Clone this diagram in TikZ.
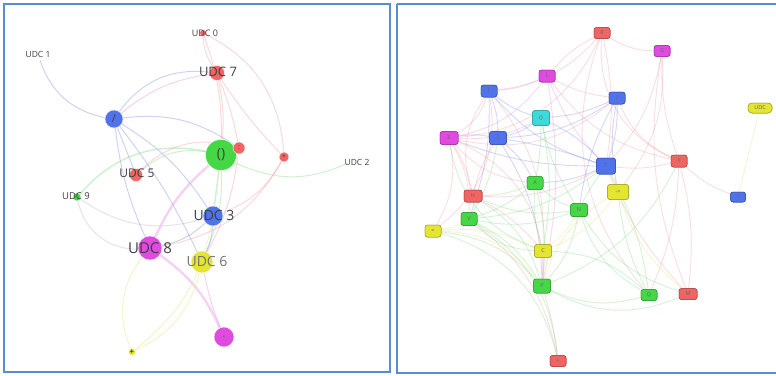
\documentclass[tikz,border=0pt]{standalone}
\usepackage{fontspec}
\setmainfont{Open Sans}
\definecolor{nred}{RGB}{240,100,100}
\definecolor{nmag}{RGB}{222,75,222}
\definecolor{nblue}{RGB}{80,115,235}
\definecolor{ngreen}{RGB}{70,215,70}
\definecolor{nyel}{RGB}{228,228,50}
\definecolor{ncyan}{RGB}{60,218,218}
\definecolor{framec}{RGB}{90,140,210}
\definecolor{lblue}{RGB}{120,130,220}
\definecolor{lpink}{RGB}{235,150,160}
\definecolor{lgreen}{RGB}{120,215,120}
\definecolor{lyel}{RGB}{225,225,110}
\definecolor{lmag}{RGB}{225,130,225}
\definecolor{lgray}{RGB}{180,180,200}
\begin{document}
\begin{tikzpicture}[x=1pt,y=-1pt,
  panel/.style={draw=framec,line width=1.4pt},
  dot/.style={circle,inner sep=0pt,draw=white,line width=0.4pt},
  lab/.style={inner sep=0pt,text=black!75},
  e/.style={line width=1pt,opacity=0.35},
  ee/.style={line width=0.9pt,opacity=0.3},
  rbox/.style={rounded corners=2.5pt,inner sep=0pt,minimum width=16pt,minimum height=11pt,
    font=\fontsize{5.5}{5.5}\selectfont,text=black!60,line width=0.5pt}
]
\useasboundingbox (0,0) rectangle (776,375);
\fill[white] (0,0) rectangle (776,375);

% ---------- left panel ----------
\coordinate (d0) at (203,33);
\coordinate (d1) at (40,60);
\coordinate (d2) at (348,163);
\node[dot,fill=nred,minimum size=15pt] (d7) at (217,73) {};
\node[dot,fill=nblue,minimum size=18pt] (slash) at (114,119) {};
\node[dot,fill=ngreen,minimum size=31pt] (paren) at (221,155) {};
\node[dot,fill=nred,minimum size=12pt] (colon) at (239,148) {};
\node[dot,fill=nred,minimum size=10pt] (star) at (284,157) {};
\node[dot,fill=nred,minimum size=13pt] (d5) at (136,175) {};
\node[dot,fill=ngreen,minimum size=8pt] (d9) at (77,197) {};
\node[dot,fill=nblue,minimum size=20pt] (d3) at (213,216) {};
\node[dot,fill=nmag,minimum size=24pt] (d8) at (150,248) {};
\node[dot,fill=nyel,minimum size=22pt] (d6) at (202,262) {};
\node[dot,fill=nmag,minimum size=20pt] (minus) at (224,337) {};
\node[dot,fill=nyel,minimum size=7pt] (plus) at (132,352) {};

\draw[e,lblue] (d1) to[bend right=30] (slash);
\draw[e,lblue] (slash) to[bend left=30] (d7);
\draw[e,lmag] (slash) to[bend left=15] (d7);
\draw[e,lblue] (slash) -- (d5);
\draw[e,lblue] (slash) to[bend left=12] (d3);
\draw[e,lblue] (slash) to[bend right=8] (d8);
\draw[e,lblue] (slash) to[bend left=6] (d6);
\draw[e,lblue] (slash) to[bend left=20] (colon);
\draw[e,lgreen,line width=1.5pt] (paren) to[bend right=30] (d9);
\draw[e,lgreen] (paren) to[bend right=25] (d2);
\draw[e,lgreen,line width=1.5pt] (paren) -- (d3);
\draw[e,lmag,line width=2.5pt] (paren) to[bend right=12] (d8);
\draw[e,lgreen] (paren) to[bend left=12] (d6);
\draw[e,lgreen] (paren) to[bend right=25] (d5);
\draw[e,lpink] (d0) to[bend left=10] (paren);
\draw[e,lpink] (d0) to[bend left=30] (star);
\draw[e,lpink] (d0) to[bend right=15] (d7);
\draw[e,lpink] (d7) to[bend left=8] (paren);
\draw[e,lpink] (d7) to[bend right=5] (star);
\draw[e,lpink] (d7) to[bend left=5] (colon);
\draw[e,lpink] (star) to[bend left=20] (d3);
\draw[e,lpink] (star) to[bend left=25] (d8);
\draw[e,lpink] (colon) to[bend left=10] (d6);
\draw[e,lpink] (colon) to[bend right=30] (d5);
\draw[e,lmag,line width=2.5pt] (d8) to[bend left=15] (minus);
\draw[e,lyel] (d8) to[bend right=30] (plus);
\draw[e,lyel] (d6) to[bend left=25] (plus);
\draw[e,lmag] (d6) to[bend right=5] (minus);
\draw[e,lblue] (d3) to[bend left=10] (d6);
\draw[e,lblue] (d3) to[bend left=15] (d8);
\draw[e,lgray] (d9) to[bend right=40] (d8);
\draw[e,lgray] (d9) to[bend right=25] (d3);
\draw[e,lyel] (d3) to[bend left=20] (plus);

% dots over edges
\node[dot,fill=nred,minimum size=15pt] at (d7) {};
\node[dot,fill=nblue,minimum size=18pt] at (slash) {};
\node[dot,fill=ngreen,minimum size=31pt] at (paren) {};
\node[dot,fill=nred,minimum size=12pt] at (colon) {};
\node[dot,fill=nred,minimum size=10pt] at (star) {};
\node[dot,fill=nred,minimum size=13pt] at (d5) {};
\node[dot,fill=ngreen,minimum size=8pt] at (d9) {};
\node[dot,fill=nblue,minimum size=20pt] at (d3) {};
\node[dot,fill=nmag,minimum size=24pt] at (d8) {};
\node[dot,fill=nyel,minimum size=22pt] at (d6) {};
\node[dot,fill=nmag,minimum size=20pt] at (minus) {};
\node[dot,fill=nyel,minimum size=7pt] at (plus) {};
\fill[nred] (d0) circle (3pt);

\node[lab,font=\fontsize{9}{9}\selectfont] (t0) at (205,33) {UDC 0};
\node[lab,font=\fontsize{8.5}{9}\selectfont] (t1) at (38,54) {UDC 1};
\node[lab,font=\fontsize{8.5}{9}\selectfont] (t2) at (357,162) {UDC 2};
\node[lab,font=\fontsize{13}{13}\selectfont] (t7) at (218,72) {UDC 7};
\node[lab,font=\fontsize{12}{12}\selectfont] (t5) at (137,173) {UDC 5};
\node[lab,font=\fontsize{9.5}{10}\selectfont] (t9) at (76,196) {UDC 9};
\node[lab,font=\fontsize{14}{14}\selectfont] (t3) at (214,215) {UDC 3};
\node[lab,font=\fontsize{15}{15}\selectfont] (t8) at (150,248) {UDC 8};
\node[lab,font=\fontsize{14}{14}\selectfont,text=black!55] (t6) at (207,261) {UDC 6};
\node[lab,font=\fontsize{14}{14}\selectfont] at (paren) {()};
\node[lab,font=\fontsize{11}{11}\selectfont] at (slash) {/};
\node[lab,font=\fontsize{7}{7}\selectfont] at (colon) {:};
\node[lab,font=\fontsize{6}{6}\selectfont] at (star) {*};
\node[lab,font=\fontsize{7}{7}\selectfont] at (minus) {-};
\node[lab,font=\fontsize{8}{8}\selectfont,text=black] at (plus) {+};

\draw[panel] (4,4) rectangle (390,372);

% ---------- right panel ----------
\node[rbox,fill=nred,draw=nred!70!black] (rR) at (602,33) {R};
\node[rbox,fill=nmag,draw=nmag!70!black] (rG) at (662,51) {G};
\node[rbox,fill=nmag,draw=nmag!70!black,minimum height=12pt] (rL) at (547,76) {L};
\node[rbox,fill=nblue,draw=nblue!70!black,minimum height=12pt] (rI) at (489,91) {I};
\node[rbox,fill=nblue,draw=nblue!70!black,minimum height=12pt] (rU) at (617,98) {J};
\node[rbox,fill=nyel,draw=nyel!70!black,minimum width=24pt,minimum height=10pt,rounded corners=4pt] (rUDC) at (760,108) {UDC};
\node[rbox,fill=ncyan,draw=ncyan!70!black,minimum width=17pt,minimum height=15pt] (rPar) at (541,118) {()};
\node[rbox,fill=nmag,draw=nmag!70!black,minimum width=18pt,minimum height=13pt] (rE) at (449,138) {E};
\node[rbox,fill=nblue,draw=nblue!70!black,minimum width=17pt,minimum height=13pt] (rS) at (498,138) {S};
\node[rbox,fill=nblue,draw=nblue!70!black,minimum width=19pt,minimum height=16pt] (rT) at (606,166) {T};
\node[rbox,fill=nred,draw=nred!70!black,minimum height=12pt] (rF) at (679,161) {F};
\node[rbox,fill=ngreen,draw=ngreen!70!black,minimum height=13pt] (rA) at (535,183) {A};
\node[rbox,fill=nred,draw=nred!70!black,minimum width=18pt,minimum height=12pt] (rH) at (473,196) {H};
\node[rbox,fill=nyel,draw=nyel!70!black,minimum width=21pt,minimum height=15pt] (rArr) at (618,192) {->};
\node[rbox,fill=nblue,draw=nblue!70!black,minimum width=15pt,minimum height=10pt] (rB) at (738,197) {/};
\node[rbox,fill=ngreen,draw=ngreen!70!black,minimum width=17pt,minimum height=13pt] (rN) at (579,210) {N};
\node[rbox,fill=ngreen,draw=ngreen!70!black,minimum height=13pt] (rV) at (469,219) {V};
\node[rbox,fill=nyel,draw=nyel!70!black,minimum height=12pt] (rEq) at (433,231) {=};
\node[rbox,fill=nyel,draw=nyel!70!black,minimum width=17pt,minimum height=13pt] (rC) at (543,251) {C};
\node[rbox,fill=ngreen,draw=ngreen!70!black,minimum width=17pt,minimum height=14pt] (rP) at (542,286) {P};
\node[rbox,fill=ngreen,draw=ngreen!70!black,minimum height=11pt] (rQ) at (649,295) {Q};
\node[rbox,fill=nred,draw=nred!70!black,minimum width=18pt,minimum height=11pt] (rM) at (688,294) {M};
\node[rbox,fill=nred,draw=nred!70!black,minimum height=11pt] (rPlus) at (558,361) {+};

\foreach \a/\b/\c/\bb in {
  rE/rS/lblue/10, rE/rT/lblue/-10, rE/rI/lpink/-20, rE/rH/lpink/10, rE/rV/lpink/15,
  rE/rEq/lpink/20, rE/rPar/lmag/-15, rE/rU/lpink/-25, rI/rS/lblue/10, rI/rT/lblue/-15,
  rI/rC/lpink/20, rI/rV/lblue/10, rS/rT/lblue/5, rS/rA/lblue/10, rS/rPar/lblue/-10,
  rS/rP/lblue/15, rPar/rT/lblue/10, rPar/rA/lgreen/5, rPar/rU/lblue/-10, rPar/rC/lgreen/10,
  rU/rT/lblue/10, rU/rS/lblue/15, rU/rN/lblue/-10, rT/rA/lblue/10, rT/rN/lgreen/-5,
  rT/rArr/lyel/10, rT/rF/lpink/-10, rT/rV/lgreen/15, rT/rH/lpink/15, rA/rN/lgreen/-10,
  rA/rP/lgreen/10, rA/rV/lgreen/10, rA/rC/lgreen/-10, rN/rC/lyel/10, rN/rP/lgreen/15,
  rN/rQ/lgreen/-20, rC/rP/lgreen/5, rC/rArr/lyel/-15, rP/rPlus/lpink/5, rP/rV/lgreen/-15,
  rP/rEq/lgreen/-20, rP/rQ/lgreen/-20, rP/rM/lgreen/-25, rV/rPlus/lgreen/25, rF/rM/lpink/10,
  rF/rB/lpink/-10, rR/rT/lpink/10, rR/rG/lpink/-15, rR/rE/lpink/30, rR/rQ/lpink/-30,
  rG/rF/lpink/-10, rG/rM/lpink/-15, rL/rT/lmag/-10, rL/rP/lmag/10, rL/rE/lmag/20,
  rL/rI/lmag/10, rH/rA/lgreen/-10, rH/rC/lpink/10, rArr/rM/lyel/-15, rArr/rQ/lgreen/-10,
  rUDC/rB/lyel/0, rEq/rV/lyel/-10, rEq/rC/lyel/15, rPlus/rV/lpink/-20, rF/rP/lgreen/20,
  rU/rF/lpink/-20, rEq/rP/lyel/25, rI/rPar/lblue/-10, rE/rA/lpink/-20, rV/rN/lgreen/-15,
  rR/rI/lpink/20, rR/rL/lpink/-10, rG/rT/lpink/15, rG/rArr/lpink/20, rL/rU/lpink/-10,
  rI/rEq/lpink/30, rE/rP/lpink/35, rH/rP/lgreen/20, rV/rC/lgreen/-20, rEq/rPlus/lgreen/30,
  rU/rArr/lblue/-10, rF/rQ/lpink/10, rT/rQ/lgreen/10, rT/rM/lpink/-10, rArr/rP/lyel/-20,
  rN/rM/lgreen/-20, rC/rQ/lgreen/20, rPar/rN/lgreen/-10, rS/rV/lgreen/10, rS/rH/lpink/-10,
  rR/rF/lpink/-35, rL/rF/lpink/-20, rI/rH/lpink/-25, rE/rC/lgreen/-30, rH/rN/lgreen/-15}
  {\draw[ee,\c] (\a) to[bend left=\bb] (\b);}

% boxes on top of edges
\node[rbox,fill=nred,draw=nred!70!black] at (602,33) {R};
\node[rbox,fill=nmag,draw=nmag!70!black] at (662,51) {G};
\node[rbox,fill=nmag,draw=nmag!70!black,minimum height=12pt] at (547,76) {L};
\node[rbox,fill=nblue,draw=nblue!70!black,minimum height=12pt] at (489,91) {I};
\node[rbox,fill=nblue,draw=nblue!70!black,minimum height=12pt] at (617,98) {J};
\node[rbox,fill=nyel,draw=nyel!70!black,minimum width=24pt,minimum height=10pt,rounded corners=4pt] at (760,108) {UDC};
\node[rbox,fill=ncyan,draw=ncyan!70!black,minimum width=17pt,minimum height=15pt] at (541,118) {()};
\node[rbox,fill=nmag,draw=nmag!70!black,minimum width=18pt,minimum height=13pt] at (449,138) {E};
\node[rbox,fill=nblue,draw=nblue!70!black,minimum width=17pt,minimum height=13pt] at (498,138) {S};
\node[rbox,fill=nblue,draw=nblue!70!black,minimum width=19pt,minimum height=16pt] at (606,166) {T};
\node[rbox,fill=nred,draw=nred!70!black,minimum height=12pt] at (679,161) {F};
\node[rbox,fill=ngreen,draw=ngreen!70!black,minimum height=13pt] at (535,183) {A};
\node[rbox,fill=nred,draw=nred!70!black,minimum width=18pt,minimum height=12pt] at (473,196) {H};
\node[rbox,fill=nyel,draw=nyel!70!black,minimum width=21pt,minimum height=15pt] at (618,192) {->};
\node[rbox,fill=nblue,draw=nblue!70!black,minimum width=15pt,minimum height=10pt] at (738,197) {/};
\node[rbox,fill=ngreen,draw=ngreen!70!black,minimum width=17pt,minimum height=13pt] at (579,210) {N};
\node[rbox,fill=ngreen,draw=ngreen!70!black,minimum height=13pt] at (469,219) {V};
\node[rbox,fill=nyel,draw=nyel!70!black,minimum height=12pt] at (433,231) {=};
\node[rbox,fill=nyel,draw=nyel!70!black,minimum width=17pt,minimum height=13pt] at (543,251) {C};
\node[rbox,fill=ngreen,draw=ngreen!70!black,minimum width=17pt,minimum height=14pt] at (542,286) {P};
\node[rbox,fill=ngreen,draw=ngreen!70!black,minimum height=11pt] at (649,295) {Q};
\node[rbox,fill=nred,draw=nred!70!black,minimum width=18pt,minimum height=11pt] at (688,294) {M};
\node[rbox,fill=nred,draw=nred!70!black,minimum height=11pt] at (558,361) {+};

\draw[panel] (397,4) -- (776,4);
\draw[panel] (397,4) -- (397,373) -- (776,373);
\end{tikzpicture}
\end{document}
